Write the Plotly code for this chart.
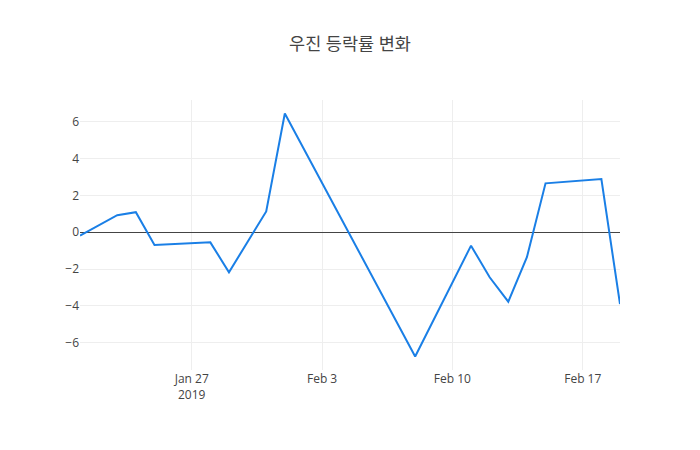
import plotly.graph_objects as go

dates = ["2019-01-21", "2019-01-23", "2019-01-24", "2019-01-25", "2019-01-28",
         "2019-01-29", "2019-01-31", "2019-02-01", "2019-02-08", "2019-02-11",
         "2019-02-12", "2019-02-13", "2019-02-14", "2019-02-15", "2019-02-18",
         "2019-02-19"]
change_pct = [-0.18, 0.93, 1.09, -0.69, -0.55, -2.18, 1.13, 6.46, -6.76, -0.73,
              -2.45, -3.78, -1.36, 2.66, 2.89, -3.91]

fig = go.Figure(go.Scatter(x=dates, y=change_pct, mode="lines",
                           line=dict(color="#1a7fe6", width=2)))

fig.update_layout(
    template="none",
    width=700, height=450,
    title=dict(text="우진 등락률 변화", x=0.5, xanchor="center",
               y=1 - 44 / 450, yanchor="middle",
               font=dict(size=17.5, color="#444")),
    font=dict(family="Open Sans, Noto Sans CJK KR, sans-serif", size=12, color="#444"),
    margin=dict(l=80, r=80, t=100, b=80),
    plot_bgcolor="white", paper_bgcolor="white",
    showlegend=False,
    xaxis=dict(showgrid=True, gridcolor="#eee", zeroline=False, showline=False,
               ticks="", dtick=7 * 86400000, tick0="2019-01-27"),
    yaxis=dict(showgrid=True, gridcolor="#eee", zeroline=True, zerolinecolor="#444",
               zerolinewidth=1, showline=False, ticks="", dtick=2),
)
fig.write_html("out.html")
